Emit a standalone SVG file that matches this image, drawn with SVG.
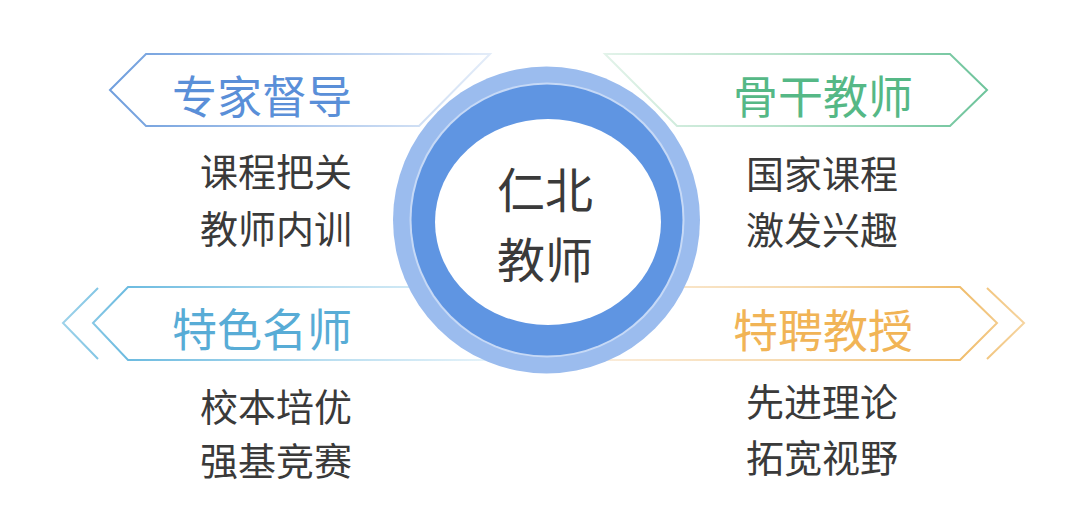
<svg xmlns="http://www.w3.org/2000/svg" width="1080" height="523" viewBox="0 0 1080 523">
  <defs>
    <linearGradient id="gBlue" gradientUnits="userSpaceOnUse" x1="110" y1="0" x2="500" y2="0">
      <stop offset="0" stop-color="#6f9edd"/>
      <stop offset="0.55" stop-color="#b5cdee"/>
      <stop offset="1" stop-color="#e6eef9"/>
    </linearGradient>
    <linearGradient id="gGreen" gradientUnits="userSpaceOnUse" x1="600" y1="0" x2="990" y2="0">
      <stop offset="0" stop-color="#e3f3ea"/>
      <stop offset="0.45" stop-color="#b8e2cb"/>
      <stop offset="1" stop-color="#6cc39a"/>
    </linearGradient>
    <linearGradient id="gCyan" gradientUnits="userSpaceOnUse" x1="60" y1="0" x2="500" y2="0">
      <stop offset="0" stop-color="#9fd3ea"/>
      <stop offset="0.15" stop-color="#6cbbe0"/>
      <stop offset="0.6" stop-color="#b9def0"/>
      <stop offset="1" stop-color="#e8f4fa"/>
    </linearGradient>
    <linearGradient id="gOrange" gradientUnits="userSpaceOnUse" x1="580" y1="0" x2="1030" y2="0">
      <stop offset="0" stop-color="#fbeede"/>
      <stop offset="0.5" stop-color="#f6d9ad"/>
      <stop offset="0.85" stop-color="#f0bd6c"/>
      <stop offset="1" stop-color="#f6d6a4"/>
    </linearGradient>
    <style>
      .frame { fill: #ffffff; stroke-width: 2; stroke-linejoin: miter; }
      .head { font-family: "Noto Sans CJK SC", "Noto Sans", sans-serif; font-size: 45px; text-anchor: middle; dominant-baseline: central; }
      .body { font-family: "Noto Sans CJK SC", "Noto Sans", sans-serif; font-size: 38px; fill: #3a3a3a; dominant-baseline: central; }
      .center { font-family: "Noto Sans CJK SC", "Noto Sans", sans-serif; font-size: 48px; fill: #3a3a3a; text-anchor: middle; dominant-baseline: central; }
    </style>
  </defs>
  <rect width="1080" height="523" fill="#ffffff"/>

  <g id="connectors"/>

  <g id="node-expert">
    <polygon class="frame" stroke="url(#gBlue)" points="110,90 146,54 490,54 419,126 146,126"/>
    <text class="head" x="262" y="94" fill="#5a8fd8">专家督导</text>
    <text class="body" x="200" y="169">课程把关</text>
    <text class="body" x="200" y="226">教师内训</text>
  </g>

  <g id="node-backbone">
    <polygon class="frame" stroke="url(#gGreen)" points="605,54 950,54 987,90 950,126 677,126"/>
    <text class="head" x="823" y="94" fill="#55b886">骨干教师</text>
    <text class="body" x="746" y="171">国家课程</text>
    <text class="body" x="746" y="227">激发兴趣</text>
  </g>

  <g id="node-famous">
    <polyline fill="none" stroke="url(#gCyan)" stroke-width="2" points="98,288 63,323 98,359"/>
    <polygon class="frame" stroke="url(#gCyan)" points="93,323 128,287 500,287 530,360 128,360"/>
    <text class="head" x="262" y="327" fill="#58acd6">特色名师</text>
    <text class="body" x="200" y="404">校本培优</text>
    <text class="body" x="200" y="458">强基竞赛</text>
  </g>

  <g id="node-professor">
    <polyline fill="none" stroke="url(#gOrange)" stroke-width="2" points="987,288 1024,323 987,359"/>
    <polygon class="frame" stroke="url(#gOrange)" points="600,287 960,287 997,323 960,360 560,360"/>
    <text class="head" x="823" y="328" fill="#f1b456">特聘教授</text>
    <text class="body" x="746" y="399">先进理论</text>
    <text class="body" x="746" y="455">拓宽视野</text>
  </g>

  <g id="node-center">
    <circle cx="546.5" cy="220" r="153.5" fill="#9bbcee"/>
    <circle cx="547" cy="220" r="137.5" fill="#c6d9f6"/>
    <circle cx="547" cy="220" r="135.5" fill="#5f95e2"/>
    <ellipse cx="548" cy="222" rx="113" ry="103" fill="#ffffff"/>
    <text class="center" x="545" y="187">仁北</text>
    <text class="center" x="545" y="257">教师</text>
  </g>
</svg>
